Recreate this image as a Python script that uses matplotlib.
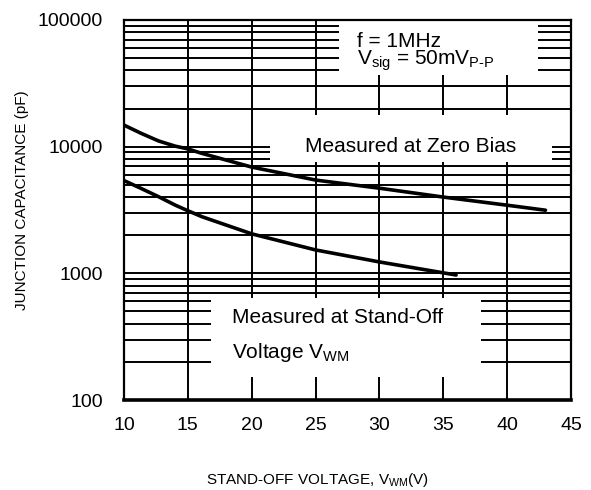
import matplotlib
matplotlib.use('Agg')
import matplotlib.pyplot as plt
from matplotlib.patches import Rectangle
from matplotlib.ticker import LogLocator, NullFormatter

plt.rcParams['font.family'] = ['Liberation Sans', 'DejaVu Sans']
plt.rcParams['mathtext.fontset'] = 'custom'
plt.rcParams['mathtext.rm'] = 'Liberation Sans'
plt.rcParams['mathtext.it'] = 'Liberation Sans'

# curves
zero_bias_v = [10, 11.3, 12.7, 14, 15, 16.1, 20, 25, 30, 35, 40, 43]
zero_bias_c = [14800, 12800, 11100, 10100, 9600, 8850, 6900, 5450, 4700,
               4000, 3450, 3150]

standoff_v = [10, 11.3, 12.7, 14, 15, 16.1, 20, 25, 30, 36]
standoff_c = [5400, 4700, 4030, 3460, 3120, 2800, 2050, 1530, 1230, 970]

x_ticks = [10, 15, 20, 25, 30, 35, 40, 45]
y_ticks = [100, 1000, 10000, 100000]
y_tick_labels = ['100', '1000', '10000', '100000']

fig = plt.figure(figsize=(5.91, 4.9), dpi=100)
ax = fig.add_axes([124 / 591, 1 - 400 / 490, 447 / 591, 380 / 490])

ax.set_yscale('log')
ax.set_xlim(10, 45)
ax.set_ylim(100, 100000)

ax.set_xticks(x_ticks)
ax.set_xticklabels([str(t) for t in x_ticks])
ax.set_yticks(y_ticks)
ax.set_yticklabels(y_tick_labels)
ax.yaxis.set_minor_locator(LogLocator(base=10, subs=range(2, 10)))
ax.yaxis.set_minor_formatter(NullFormatter())
ax.tick_params(which='both', length=0, labelsize=14)
ax.tick_params(axis='y', pad=15)
ax.tick_params(axis='x', pad=12)

ax.grid(True, which='both', color='black', linewidth=1.4, zorder=1)
ax.set_axisbelow(True)
for s in ax.spines.values():
    s.set_linewidth(1.6)
    s.set_zorder(5)
ax.spines['bottom'].set_linewidth(2.6)

ax.plot(zero_bias_v, zero_bias_c, color='black', lw=2.6, zorder=4,
        solid_capstyle='round', solid_joinstyle='round')
ax.plot(standoff_v, standoff_c, color='black', lw=2.6, zorder=4,
        solid_capstyle='round', solid_joinstyle='round')

# white label boxes hiding the grid
boxes = [(0.482, 0.855, 0.444, 0.145),
         (0.327, 0.626, 0.630, 0.124),
         (0.195, 0.060, 0.603, 0.208)]
for bx, by, bw, bh in boxes:
    ax.add_patch(Rectangle((bx, by), bw, bh, transform=ax.transAxes,
                           facecolor='white', edgecolor='none', zorder=3))


def px(x, y):
    return ((x - 124) / 447, (400 - y) / 380)


ax.text(*px(357, 47), 'f = 1MHz', transform=ax.transAxes, fontsize=15,
        ha='left', va='baseline', zorder=6)
ax.text(*px(357, 65), r'V$_{\mathrm{sig}}$ = 50mV$_{\text{P-P}}$',
        transform=ax.transAxes, fontsize=15, ha='left', va='baseline', zorder=6)
ax.text(*px(411, 152), 'Measured at Zero Bias', transform=ax.transAxes,
        fontsize=15, ha='center', va='baseline', zorder=6)
ax.text(*px(232, 323), 'Measured at Stand-Off', transform=ax.transAxes,
        fontsize=15, ha='left', va='baseline', zorder=6)
ax.text(*px(232, 358), r'Voltage V$_{\mathrm{WM}}$', transform=ax.transAxes,
        fontsize=15, ha='left', va='baseline', zorder=6)

fig.text(318 / 591, 1 - 480 / 490, r'STAND-OFF VOLTAGE, V$_{\mathrm{WM}}$(V)',
         fontsize=11, ha='center', va='center')
fig.text(22 / 591, 1 - 200 / 490, 'JUNCTION CAPACITANCE (pF)', fontsize=11,
         ha='center', va='center', rotation=90)

fig.savefig('out.png', dpi=100)
